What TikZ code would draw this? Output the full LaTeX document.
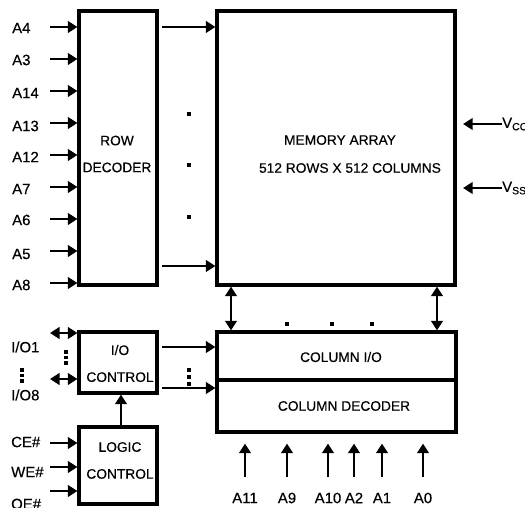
\documentclass[tikz,border=0pt]{standalone}
\usepackage{fontspec}
\setmainfont[FakeBold=0.4]{Liberation Sans}
\usetikzlibrary{arrows.meta,calc,positioning}
\tikzset{
  blk/.style={draw,line width=3.2bp,inner sep=0pt},
  sig/.style={-{Triangle[length=9.5bp,width=11.5bp]},line width=2.5bp},
  bus/.style={{Triangle[length=9.5bp,width=11.5bp]}-{Triangle[length=9.5bp,width=11.5bp]},line width=2.7bp},
  pin/.style={font=\fontsize{15}{17}\selectfont,inner sep=0pt,anchor=west},
  pinb/.style={font=\fontsize{15}{17}\selectfont,inner sep=0pt},
  txt/.style={font=\fontsize{13.8}{27}\selectfont,align=center,inner sep=0pt},
  dot/.style={fill=black,minimum size=3.6bp,inner sep=0pt},
}
\begin{document}
\begin{tikzpicture}[x=1bp,y=-1bp]
  \useasboundingbox (0,0) rectangle (525,508);

  % BLOCKS
  \node[blk,minimum width=78bp,minimum height=274bp]  (rowdec) at (118,148)   {};
  \node[blk,minimum width=238bp,minimum height=274bp] (memarr) at (336,148)   {};
  \node[blk,minimum width=78bp,minimum height=61bp]   (iocon)  at (118,362.5) {};
  \node[blk,minimum width=78bp,minimum height=77bp]   (logcon) at (118,465.5) {};
  \node[blk,minimum width=239bp,minimum height=48bp]  (colio)  at (336.5,356) {};
  \node[blk,minimum width=239bp,minimum height=52bp]  (coldec) at (336.5,406) {};

  \node[txt] (rowdec-t) at (117,154)   {ROW\\DECODER};
  \node[txt] (mem-t1)   at (340,140)   {MEMORY ARRAY};
  \node[txt] (mem-t2)   at (350,168)   {512 ROWS X 512 COLUMNS};
  \node[txt] (iocon-t)  at (120,363.5) {I/O\\CONTROL};
  \node[txt] (logcon-t) at (120,460.5) {LOGIC\\CONTROL};
  \node[txt] (colio-t)  at (341,357)   {COLUMN I/O};
  \node[txt] (coldec-t) at (344,406)   {COLUMN DECODER};

  % ROW ADDRESS
  \node[pin] (a4)  at (12,28)  {A4};
  \node[pin] (a3)  at (12,60)  {A3};
  \node[pin] (a14) at (12,93)  {A14};
  \node[pin] (a13) at (12,126) {A13};
  \node[pin] (a12) at (12,157) {A12};
  \node[pin] (a7)  at (12,189) {A7};
  \node[pin] (a6)  at (12,220) {A6};
  \node[pin] (a5)  at (12,254) {A5};
  \node[pin] (a8)  at (12,285) {A8};
  \coordinate (a4-o)  at (50,27);
  \coordinate (a3-o)  at (50,59);
  \coordinate (a14-o) at (50,91);
  \coordinate (a13-o) at (50,123);
  \coordinate (a12-o) at (50,155);
  \coordinate (a7-o)  at (50,187);
  \coordinate (a6-o)  at (50,219);
  \coordinate (a5-o)  at (50,251);
  \coordinate (a8-o)  at (50,283);
  \draw[sig] (a4-o)  -- (a4-o -| rowdec.west);
  \draw[sig] (a3-o)  -- (a3-o -| rowdec.west);
  \draw[sig] (a14-o) -- (a14-o -| rowdec.west);
  \draw[sig] (a13-o) -- (a13-o -| rowdec.west);
  \draw[sig] (a12-o) -- (a12-o -| rowdec.west);
  \draw[sig] (a7-o)  -- (a7-o -| rowdec.west);
  \draw[sig] (a6-o)  -- (a6-o -| rowdec.west);
  \draw[sig] (a5-o)  -- (a5-o -| rowdec.west);
  \draw[sig] (a8-o)  -- (a8-o -| rowdec.west);

  % ROW LINES
  \coordinate (rl1) at (162,27);
  \coordinate (rl2) at (162,266);
  \draw[sig] (rl1) -- (rl1 -| memarr.west);
  \draw[sig] (rl2) -- (rl2 -| memarr.west);
  \node[dot] (rd1) at (189,114) {};
  \node[dot] (rd2) at (189,165) {};
  \node[dot] (rd3) at (189,217) {};

  % POWER
  \node[pin] (vcc) at (502,124) {V\textsubscript{CC}};
  \node[pin] (vss) at (502,188) {V\textsubscript{SS}};
  \draw[sig,shorten >=6.5bp] (vcc.west) -- (vcc.west -| memarr.east);
  \draw[sig,shorten >=6.5bp] (vss.west) -- (vss.west -| memarr.east);

  % DATA I/O
  \node[pin] (io1) at (11,347) {I/O1};
  \node[pin] (io8) at (11,395) {I/O8};
  \node[dot] (iv1) at (22,370) {};
  \node[dot] (iv2) at (22,375.5) {};
  \node[dot] (iv3) at (22,381) {};
  \coordinate (io1-o) at (50,333);
  \coordinate (io8-o) at (50,379);
  \draw[bus] (io1-o) -- (io1-o -| iocon.west);
  \draw[bus] (io8-o) -- (io8-o -| iocon.west);
  \node[dot] (id1) at (66,352) {};
  \node[dot] (id2) at (66,357.5) {};
  \node[dot] (id3) at (66,363) {};

  \coordinate (cl1) at (162,347);
  \coordinate (cl2) at (162,388);
  \draw[sig] (cl1) -- (cl1 -| colio.west);
  \draw[sig] (cl2) -- (cl2 -| coldec.west);
  \node[dot] (cd1) at (189,370) {};
  \node[dot] (cd2) at (189,377) {};
  \node[dot] (cd3) at (189,384) {};

  % CONTROL
  \node[pin] (ce) at (11,442) {CE\#};
  \node[pin] (we) at (11,472) {WE\#};
  \node[pin] (oe) at (11,504) {OE\#};
  \coordinate (ce-o) at (50,443);
  \coordinate (we-o) at (50,467);
  \coordinate (oe-o) at (50,491);
  \draw[sig] (ce-o) -- (ce-o -| logcon.west);
  \draw[sig] (we-o) -- (we-o -| logcon.west);
  \draw[sig] (oe-o) -- (oe-o -| logcon.west);
  \draw[sig] ([xshift=3bp]logcon.north) -- ([xshift=3bp]iocon.south);

  % MEMORY TO COLUMN I/O
  \coordinate (bl) at (231,0);
  \coordinate (br) at (437,0);
  \draw[bus] (bl |- memarr.south) -- (bl |- colio.north);
  \draw[bus] (br |- memarr.south) -- (br |- colio.north);
  \node[dot] (bd1) at (287,324) {};
  \node[dot] (bd2) at (332,324) {};
  \node[dot] (bd3) at (372,324) {};

  % COLUMN ADDRESS
  \node[pinb] (a11) at (245,498) {A11};
  \node[pinb] (a9)  at (287,498) {A9};
  \node[pinb] (a10) at (328,498) {A10};
  \node[pinb] (a2)  at (354,498) {A2};
  \node[pinb] (a1)  at (382,498) {A1};
  \node[pinb] (a0)  at (423,498) {A0};
  \coordinate (a11-o) at (245,477);
  \coordinate (a9-o)  at (287,477);
  \coordinate (a10-o) at (328,477);
  \coordinate (a2-o)  at (354,477);
  \coordinate (a1-o)  at (382,477);
  \coordinate (a0-o)  at (423,477);
  \draw[sig,shorten >=10bp] (a11-o) -- (a11-o |- coldec.south);
  \draw[sig,shorten >=10bp] (a9-o)  -- (a9-o |- coldec.south);
  \draw[sig,shorten >=10bp] (a10-o) -- (a10-o |- coldec.south);
  \draw[sig,shorten >=10bp] (a2-o)  -- (a2-o |- coldec.south);
  \draw[sig,shorten >=10bp] (a1-o)  -- (a1-o |- coldec.south);
  \draw[sig,shorten >=10bp] (a0-o)  -- (a0-o |- coldec.south);

\end{tikzpicture}
\end{document}
